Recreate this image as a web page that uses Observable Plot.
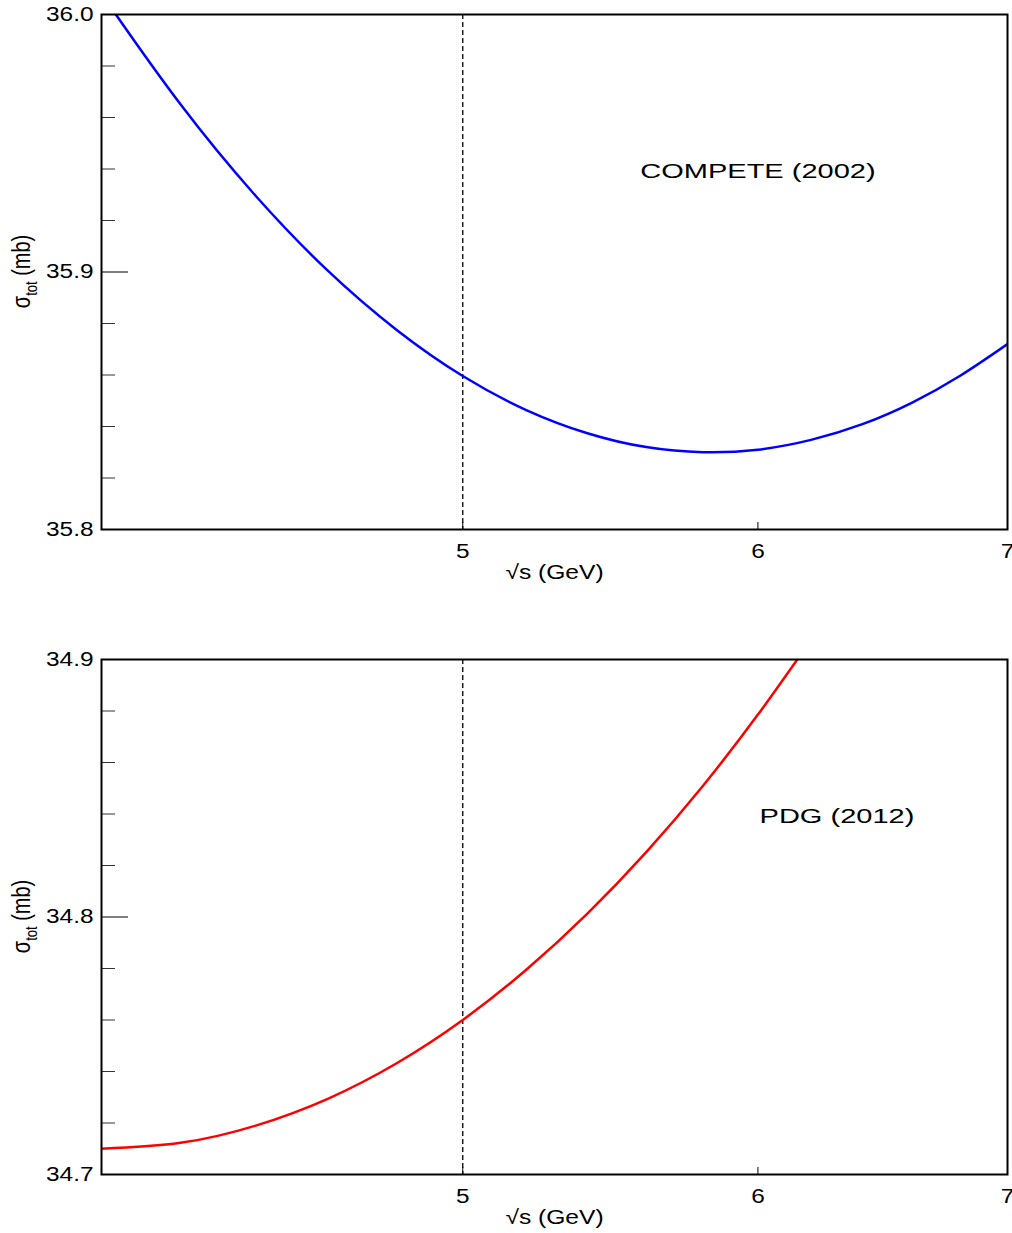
<!DOCTYPE html>
<html><head><meta charset="utf-8">
<script src="https://cdn.jsdelivr.net/npm/d3@7"></script>
<script src="https://cdn.jsdelivr.net/npm/@observablehq/plot@0.6"></script>
<style>body{margin:0;background:#fff} svg{display:block}</style>
</head><body><div id="chart"></div>
<script>
// COMPETE (2002) curve
const sqrtS_compete = [4.0, 4.04, 4.2, 4.4, 4.6, 4.8, 5.0, 5.2, 5.4, 5.6, 5.8, 6.0, 6.2, 6.4, 6.6, 6.8, 7.0];
const sigma_compete = [36.0080, 35.9990, 35.9651, 35.9295, 35.9005, 35.8775, 35.8596, 35.8464, 35.8374, 35.8320, 35.8300, 35.8310, 35.8348, 35.8409, 35.8493, 35.8598, 35.8720];
// PDG (2012) curve
const sqrtS_pdg = [4.0, 4.2, 4.4, 4.6, 4.8, 5.0, 5.2, 5.4, 5.6, 5.8, 6.0, 6.2];
const sigma_pdg = [34.7100, 34.7123, 34.7190, 34.7294, 34.7432, 34.7600, 34.7795, 34.8013, 34.8252, 34.8510, 34.8786, 34.9076];

const xTicks = [5, 6, 7];
const yMajorTop = [35.8, 35.9, 36.0];
const yMinorTop = [35.82, 35.84, 35.86, 35.88, 35.92, 35.94, 35.96, 35.98];
const yMajorBottom = [34.7, 34.8, 34.9];
const yMinorBottom = [34.72, 34.74, 34.76, 34.78, 34.82, 34.84, 34.86, 34.88];
const dividerX = [5];
const xLabel = "√s (GeV)";
const notesTop = [{x: 6.0, y: 35.9388, label: "COMPETE (2002)"}];
const notesBottom = [{x: 6.3, y: 34.8388, label: "PDG (2012)"}];

function panel({xs, ys, color, yDomain, yMajor, yMinor, notes, height, marginBottom}) {
  const data = xs.map((x, i) => ({x, y: ys[i]}));
  const svg = Plot.plot({
    width: 1012, height, marginLeft: 101, marginRight: 5, marginTop: 14, marginBottom,
    style: {fontFamily: "'Liberation Sans', Arial, sans-serif", fontSize: "20px", background: "white", color: "black", overflow: "visible"},
    x: {type: "log", domain: [4, 7]},
    y: {domain: yDomain},
    marks: [
      Plot.ruleX(dividerX, {stroke: "black", strokeWidth: 1.3, strokeDasharray: "5,3"}),
      Plot.line(data, {x: "x", y: "y", stroke: color, strokeWidth: 2.5, curve: "natural", clip: true}),
      Plot.axisY(yMinor, {tickSize: -14, fill: "none", stroke: "#333", label: null}),
      Plot.axisY(yMajor, {tickSize: -27, fill: "none", stroke: "black", label: null}),
      Plot.axisY(yMajor, {tickSize: 0, tickPadding: 8, label: null, tickFormat: d => d.toFixed(1), fontSize: 20}),
      Plot.axisX(xTicks, {tickSize: -7, fill: "none", stroke: "black", label: null}),
      Plot.axisX(xTicks, {tickSize: 0, tickPadding: 14, label: null, tickFormat: d => String(d), fontSize: 20}),
      Plot.text([xLabel], {frameAnchor: "bottom", dy: 43, text: d => d, lineAnchor: "middle", fontSize: 20, fill: "black"}),
      Plot.text(notes, {x: "x", y: "y", text: "label", fontSize: 20, fill: "black"}),
      Plot.frame({stroke: "black", strokeWidth: 2})
    ]
  });
  const s = d3.select(svg);
  const t = s.append("text").attr("class", "ylab")
    .attr("transform", `translate(30,${14 + 515 / 2}) scale(1.3,1) rotate(-90)`)
    .attr("text-anchor", "middle").attr("font-size", 20).attr("fill", "black");
  t.append("tspan").text("σ");
  t.append("tspan").attr("font-size", 13).attr("dy", 5).text("tot");
  t.append("tspan").attr("dy", -5).text(" (mb)");
  return svg;
}

const root = document.getElementById("chart");
root.append(panel({xs: sqrtS_compete, ys: sigma_compete, color: "#0000ff", yDomain: [35.8, 36.0], yMajor: yMajorTop, yMinor: yMinorTop, notes: notesTop, height: 645, marginBottom: 116}));
root.append(panel({xs: sqrtS_pdg, ys: sigma_pdg, color: "#ff0000", yDomain: [34.7, 34.9], yMajor: yMajorBottom, yMinor: yMinorBottom, notes: notesBottom, height: 588, marginBottom: 59}));

// horizontal stretch of text to mimic the reference's wide lettering
document.querySelectorAll("svg text").forEach(el => {
  if (el.classList.contains("ylab")) return;
  const str = el.textContent;
  let k = 1.22;
  if (str.includes("GeV")) k = 1.23;
  else if (/[A-Z]/.test(str)) k = 1.45;
  const L = el.getComputedTextLength();
  if (L > 0) {
    el.setAttribute("textLength", L * k);
    el.setAttribute("lengthAdjust", "spacingAndGlyphs");
  }
});
</script>
</body></html>
